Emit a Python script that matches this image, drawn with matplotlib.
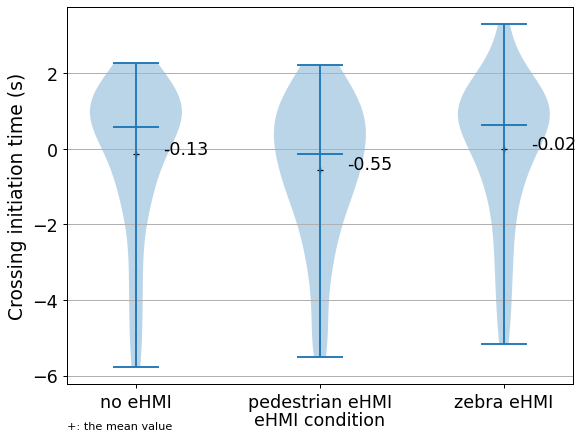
import numpy as np
import matplotlib
matplotlib.use("Agg")
import matplotlib.pyplot as plt

categories = ["no eHMI", "pedestrian eHMI", "zebra eHMI"]

no_ehmi = [-5.77, -5.1, -4.45, -3.8, -3.2, -2.6,
           -1.85, -1.55, -1.3, -1.05, -0.85, -0.65, -0.45,
           -0.25, -0.05, 0.12, 0.25, 0.4, 0.48, 0.55, 0.6, 0.72, 0.79, 0.86,
           0.9, 0.95, 1.02, 1.08, 1.16, 1.24, 1.32, 1.4, 1.44, 1.5, 1.58,
           1.64, 1.72, 1.8, 1.95, 2.27]
pedestrian_ehmi = [-5.5, -5.0, -4.4, -3.6, -3.15, -2.75, -2.4, -2.2,
                   -1.85, -1.62, -1.42, -1.27, -1.12, -0.98, -0.86, -0.74,
                   -0.62, -0.5, -0.38, -0.2, -0.1, 0.0, 0.13, 0.23, 0.33,
                   0.43, 0.53, 0.63, 0.72, 0.82, 0.9, 1.02, 1.14, 1.26, 1.38,
                   1.5, 1.65, 1.8, 1.97, 2.22]
zebra_ehmi = [-5.17, -4.5, -3.9, -3.4, -2.9, -2.45, -2.0, -1.6,
              -1.3, -1.0, -0.75, -0.55, -0.4, -0.25, -0.12, 0.0,
              0.15, 0.35, 0.5, 0.6, 0.66, 0.72, 0.78, 0.84, 0.9, 0.96, 1.02,
              1.08, 1.14, 1.2, 1.27, 1.34, 1.42, 1.5, 1.6, 1.72, 1.88, 2.1,
              2.5, 3.3]

data = [no_ehmi, pedestrian_ehmi, zebra_ehmi]

fig = plt.figure(figsize=(6.41, 4.81), dpi=90)
ax = fig.add_axes([0.116, 0.111, 0.877, 0.871])

positions = np.arange(1, len(data) + 1)
means = [np.mean(d) for d in data]

ax.plot(positions, means, linestyle="none", marker="+", color="black",
        markersize=5, zorder=1.9)
ax.violinplot(data, positions=positions, showmedians=True, bw_method=0.4)

for p, m in zip(positions, means):
    ax.text(p + 0.15, m, f"{m:.2f}", fontsize=14)

ax.set_xticks(positions)
ax.set_xticklabels(categories, fontsize=14)
ax.tick_params(axis="y", labelsize=14)
ax.set_xlabel("eHMI condition", fontsize=14, labelpad=0)
ax.set_ylabel("Crossing initiation time (s)", fontsize=15)
ax.yaxis.grid(True)

fig.text(0.116, 0.006, "+: the mean value", fontsize=9)

fig.savefig("out.png", dpi=90)
